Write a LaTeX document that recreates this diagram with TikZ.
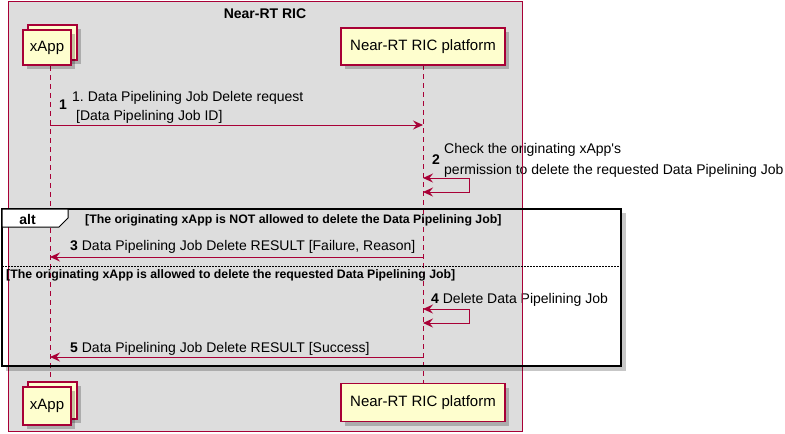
\documentclass[tikz,border=0pt]{standalone}
\usepackage{fontspec}
\setmainfont{Liberation Sans}
\usetikzlibrary{arrows.meta}
\definecolor{crim}{HTML}{A80036}
\definecolor{partfill}{HTML}{FEFECE}
\definecolor{boxgray}{HTML}{DDDDDD}
\frenchspacing
\begin{document}
\begin{tikzpicture}[x=1pt,y=-1pt,
 part/.style={draw=crim, fill=partfill, line width=1.3pt, inner sep=0, font=\fontsize{15}{17}\selectfont},
 shadowbox/.style={fill=black, opacity=0.22, draw=none},
 lifeline/.style={draw=crim, dash pattern=on 5pt off 4pt, line width=0.8pt},
 msg/.style={draw=crim, line width=1pt, -{Stealth[length=10pt,width=9pt,inset=3.5pt]}},
 selfmsg/.style={draw=crim, line width=1pt, {Stealth[length=10pt,width=9pt,inset=3.5pt]}-{Stealth[length=10pt,width=9pt,inset=3.5pt]}},
 txt/.style={anchor=west, inner sep=0, font=\fontsize{14}{16}\selectfont},
 num/.style={anchor=west, inner sep=0, font=\fontsize{14}{16}\selectfont\bfseries},
 guard/.style={anchor=west, inner sep=0, font=\fontsize{12.3}{14}\selectfont\bfseries}]
\useasboundingbox (0,0) rectangle (785,434);
% outer group box
\fill[boxgray] (8,1) rectangle (522,431);
\node[font=\fontsize{14}{16}\selectfont\bfseries, inner sep=0] (title) at (265,14) {Near-RT RIC};
% lifelines
\coordinate (la1) at (50,66);
\coordinate (la2) at (50,382);
\coordinate (lb1) at (423,65);
\coordinate (lb2) at (423,383);
\draw[lifeline] (la1) -- (la2);
\draw[lifeline] (lb1) -- (lb2);
% top participants
\fill[shadowbox] (32,29) rectangle (81,64);
\draw[part] (28,25) rectangle (77,60);
\fill[shadowbox] (27,34) rectangle (75,69);
\node[part, minimum width=48pt, minimum height=35pt] (xAppTop) at (47,47.5) {xApp};
\fill[shadowbox] (345,32) rectangle (509,69);
\node[part, minimum width=164pt, minimum height=37pt] (platTop) at (423,46.5) {Near-RT RIC platform};
% bottom participants
\fill[shadowbox] (32,386) rectangle (81,423);
\draw[part] (28,382) rectangle (77,419);
\fill[shadowbox] (27,391) rectangle (75,429);
\node[part, minimum width=48pt, minimum height=38pt] (xAppBot) at (47,406) {xApp};
\fill[shadowbox] (345,387.5) rectangle (509,425.5);
\node[part, minimum width=164pt, minimum height=38pt] (platBot) at (423,402.5) {Near-RT RIC platform};
% message 1
\coordinate (m1s) at (50,125);
\coordinate (m1e) at (423,125);
\draw[msg] (m1s) -- (m1e);
\node[num] (n1) at (59,104.5) {1};
\node[txt] (t1a) at (72,97.5) {1. Data Pipelining Job Delete request};
\node[txt] (t1b) at (76,117) {[Data Pipelining Job ID]};
% message 2
\coordinate (m2s) at (423,178);
\coordinate (m2e) at (423,192);
\draw[selfmsg] (m2s) -- (469,178) -- (469,192) -- (m2e);
\node[num] (n2) at (432,159.5) {2};
\node[txt] (t2a) at (444,150) {Check the originating xApp\textquotesingle s};
\node[txt] (t2b) at (444,170.5) {permission to delete the requested Data Pipelining Job};
% message 3
\coordinate (m3s) at (423,257);
\coordinate (m3e) at (50,257);
\draw[msg] (m3s) -- (m3e);
\node[txt] (t3) at (70,246.5) {\textbf{3} Data Pipelining Job Delete RESULT [Failure, Reason]};
% message 4
\coordinate (m4s) at (423,309);
\coordinate (m4e) at (423,323);
\draw[selfmsg] (m4s) -- (469,309) -- (469,323) -- (m4e);
\node[txt] (t4) at (431,299.5) {\textbf{4} Delete Data Pipelining Job};
% message 5
\coordinate (m5s) at (423,357);
\coordinate (m5e) at (50,357);
\draw[msg] (m5s) -- (m5e);
\node[txt] (t5) at (70,348.5) {\textbf{5} Data Pipelining Job Delete RESULT [Success]};
% outer border
\draw[crim, line width=0.9pt] (8,1) rectangle (522,431);
% alt fragment
\fill[shadowbox] (622,213) rectangle (626,371);
\fill[shadowbox] (6,367) rectangle (622,371);
\draw[black, line width=2.2pt] (2,209) rectangle (621,366);
\draw[black, line width=1pt, fill=white] (2,209) -- (68,209) -- (68,218) -- (59,227) -- (2,227) -- cycle;
\node[font=\fontsize{14}{16}\selectfont\bfseries, inner sep=0] (altlbl) at (27.5,219.5) {alt};
\node[guard] (g1) at (85,220) {[The originating xApp is NOT allowed to delete the Data Pipelining Job]};
\draw[black, line width=0.9pt, dash pattern=on 1.5pt off 1.5pt] (2,266) -- (621,266);
\node[guard] (g2) at (6,275.5) {[The originating xApp is allowed to delete the requested Data Pipelining Job]};
\end{tikzpicture}
\end{document}
